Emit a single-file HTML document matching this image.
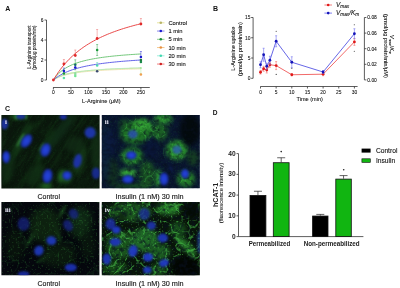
<!DOCTYPE html>
<html><head><meta charset="utf-8"><title>Figure</title>
<style>
html,body{margin:0;padding:0;background:#fff;width:400px;height:288px;overflow:hidden}
svg{display:block}
text{font-family:'Liberation Sans', Arial, sans-serif}
.lbl{font-size:7px;font-weight:bold;fill:#111}
.tk{font-size:4.9px;fill:#111;stroke:#111;stroke-width:0.08}
.tkb{font-size:6.6px;font-weight:bold;fill:#1a1a1a}
.ttl{font-size:5.6px;fill:#111;stroke:#111;stroke-width:0.08}
.ttlb{font-size:6.2px;font-weight:bold;fill:#222}
.ttls{font-size:4.6px;fill:#222;stroke:#222;stroke-width:0.06}
.lg{font-size:5.8px;fill:#111;stroke:#111;stroke-width:0.1}
.cap{font-size:7.4px;fill:#111;stroke:#111;stroke-width:0.12}
.rl{font-size:7px;fill:#e4e4f4;font-weight:bold;font-family:'Liberation Serif',serif}
.axis{fill:none;stroke:#333;stroke-width:0.8}
</style></head>
<body>
<svg width="400" height="288" viewBox="0 0 400 288">
<defs>
<filter id="b1" color-interpolation-filters="sRGB" x="-50%" y="-50%" width="200%" height="200%"><feGaussianBlur stdDeviation="0.9"/></filter>
<radialGradient id="ngA"><stop offset="0" stop-color="#2644e0"/><stop offset="0.55" stop-color="#203cc8"/><stop offset="1" stop-color="#152590"/></radialGradient>
<filter id="b2" color-interpolation-filters="sRGB" x="-50%" y="-50%" width="200%" height="200%"><feGaussianBlur stdDeviation="3"/></filter>
<filter id="b4" color-interpolation-filters="sRGB" x="-50%" y="-50%" width="200%" height="200%"><feGaussianBlur stdDeviation="1.3"/></filter>
<filter id="b3" color-interpolation-filters="sRGB" x="-50%" y="-50%" width="200%" height="200%"><feGaussianBlur stdDeviation="2"/></filter>
<filter id="holes" color-interpolation-filters="sRGB" x="0" y="0" width="100%" height="100%" filterUnits="objectBoundingBox"><feTurbulence type="fractalNoise" baseFrequency="0.25" numOctaves="2" seed="7"/><feColorMatrix type="matrix" values="0 0 0 0 0.03  0 0 0 0 0.06  0 0 0 0 0.12  -2.0 0 0 0 1.12"/></filter>
<filter id="holes2" color-interpolation-filters="sRGB" x="0" y="0" width="100%" height="100%" filterUnits="objectBoundingBox"><feTurbulence type="fractalNoise" baseFrequency="0.5" numOctaves="2" seed="11"/><feColorMatrix type="matrix" values="0 0 0 0 0.01  0 0 0 0 0.03  0 0 0 0 0.02  -3 0 0 0 1.85"/></filter>
<filter id="spk" color-interpolation-filters="sRGB" x="0" y="0" width="100%" height="100%" filterUnits="objectBoundingBox"><feTurbulence type="fractalNoise" baseFrequency="0.55" numOctaves="1" seed="4"/><feColorMatrix type="matrix" values="0 0 0 0 0.3  0 0 0 0 0.72  0 0 0 0 0.3  7 0 0 0 -4.1"/><feGaussianBlur stdDeviation="0.3"/></filter>
<filter id="fib" color-interpolation-filters="sRGB" x="0" y="0" width="100%" height="100%" filterUnits="objectBoundingBox"><feTurbulence type="fractalNoise" baseFrequency="0.05 0.3" numOctaves="3" seed="9"/><feColorMatrix type="matrix" values="0 0 0 0 0.16  0 0 0 0 0.48  0 0 0 0 0.18  3.2 0 0 0 -1.35"/></filter>
<filter id="vein" color-interpolation-filters="sRGB" x="0" y="0" width="100%" height="100%" filterUnits="objectBoundingBox"><feTurbulence type="turbulence" baseFrequency="0.09" numOctaves="2" seed="21"/><feColorMatrix type="matrix" values="0 0 0 0 0.3  0 0 0 0 0.78  0 0 0 0 0.3  -9 0 0 0 1.25"/><feGaussianBlur stdDeviation="0.35"/></filter>
<filter id="vein2" color-interpolation-filters="sRGB" x="0" y="0" width="100%" height="100%" filterUnits="objectBoundingBox"><feTurbulence type="turbulence" baseFrequency="0.11" numOctaves="2" seed="33"/><feColorMatrix type="matrix" values="0 0 0 0 0.25  0 0 0 0 0.72  0 0 0 0 0.28  -9 0 0 0 1.2"/><feGaussianBlur stdDeviation="0.4"/></filter>
<filter id="vein3" color-interpolation-filters="sRGB" x="0" y="0" width="100%" height="100%" filterUnits="objectBoundingBox"><feTurbulence type="turbulence" baseFrequency="0.08" numOctaves="2" seed="45"/><feColorMatrix type="matrix" values="0 0 0 0 0.2  0 0 0 0 0.6  0 0 0 0 0.25  -9 0 0 0 1.15"/><feGaussianBlur stdDeviation="0.4"/></filter>
<filter id="tex" color-interpolation-filters="sRGB" x="0" y="0" width="100%" height="100%"><feTurbulence type="fractalNoise" baseFrequency="0.6" numOctaves="2" seed="3"/><feColorMatrix type="matrix" values="0 0 0 0 0.15  0 0 0 0 0.5  0 0 0 0 0.2  0 0 0 2.2 -1.1"/><feComposite in2="SourceGraphic" operator="in"/></filter>
</defs>
<rect width="400" height="288" fill="#fff"/>
<g id="A">
<text x="5.3" y="10.9" class="lbl">A</text>
<path d="M46.5 20V80M44.5 20H46.5M44.5 40H46.5M44.5 60H46.5M44.5 80H46.5" class="axis"/>
<text x="43.6" y="21.8" class="tk" text-anchor="end">6</text>
<text x="43.6" y="41.8" class="tk" text-anchor="end">4</text>
<text x="43.6" y="61.8" class="tk" text-anchor="end">2</text>
<text x="43.6" y="81.8" class="tk" text-anchor="end">0</text>
<path d="M53.1 87.5H149.8M53.40 87.5V89.5M70.90 87.5V89.5M88.40 87.5V89.5M105.90 87.5V89.5M123.40 87.5V89.5M140.90 87.5V89.5" class="axis"/>
<text x="53.40" y="94.2" class="tk" text-anchor="middle">0</text>
<text x="70.90" y="94.2" class="tk" text-anchor="middle">50</text>
<text x="88.40" y="94.2" class="tk" text-anchor="middle">100</text>
<text x="105.90" y="94.2" class="tk" text-anchor="middle">150</text>
<text x="123.40" y="94.2" class="tk" text-anchor="middle">200</text>
<text x="140.90" y="94.2" class="tk" text-anchor="middle">250</text>
<text x="101.3" y="102.6" class="ttl" text-anchor="middle">L-Arginine (μM)</text>
<text transform="translate(30.7 47.1) rotate(-90)" class="ttl" style="font-size:5.1px" text-anchor="middle" textLength="43.5" lengthAdjust="spacingAndGlyphs">L-Arginine transport</text>
<text transform="translate(35.6 47.6) rotate(-90)" class="ttl" style="font-size:4.9px" text-anchor="middle" textLength="44.5" lengthAdjust="spacingAndGlyphs">(pmol/μg protein/min)</text>
<polyline points="53.40,80.00 55.15,78.79 56.90,77.77 58.65,76.89 60.40,76.13 62.15,75.47 63.90,74.88 65.65,74.36 67.40,73.89 69.15,73.47 70.90,73.10 72.65,72.75 74.40,72.43 76.15,72.15 77.90,71.88 79.65,71.63 81.40,71.41 83.15,71.20 84.90,71.00 86.65,70.82 88.40,70.65 90.15,70.48 91.90,70.33 93.65,70.19 95.40,70.06 97.15,69.93 98.90,69.81 100.65,69.70 102.40,69.59 104.15,69.49 105.90,69.39 107.65,69.30 109.40,69.21 111.15,69.12 112.90,69.04 114.65,68.97 116.40,68.89 118.15,68.82 119.90,68.76 121.65,68.69 123.40,68.63 125.15,68.57 126.90,68.51 128.65,68.45 130.40,68.40 132.15,68.35 133.90,68.30 135.65,68.25 137.40,68.20 139.15,68.16 140.90,68.11" fill="none" stroke="#dfe6a0" stroke-width="1.1"/>
<polyline points="53.40,80.00 55.15,78.94 56.90,78.03 58.65,77.24 60.40,76.55 62.15,75.94 63.90,75.40 65.65,74.92 67.40,74.48 69.15,74.09 70.90,73.73 72.65,73.40 74.40,73.10 76.15,72.82 77.90,72.57 79.65,72.33 81.40,72.11 83.15,71.91 84.90,71.72 86.65,71.54 88.40,71.38 90.15,71.22 91.90,71.07 93.65,70.93 95.40,70.80 97.15,70.68 98.90,70.56 100.65,70.45 102.40,70.34 104.15,70.24 105.90,70.14 107.65,70.05 109.40,69.96 111.15,69.88 112.90,69.80 114.65,69.72 116.40,69.65 118.15,69.58 119.90,69.51 121.65,69.45 123.40,69.38 125.15,69.32 126.90,69.27 128.65,69.21 130.40,69.16 132.15,69.11 133.90,69.06 135.65,69.01 137.40,68.96 139.15,68.91 140.90,68.87" fill="none" stroke="#eee0a8" stroke-width="0.8"/>
<polyline points="53.40,80.00 55.15,78.87 56.90,77.89 58.65,77.04 60.40,76.29 62.15,75.63 63.90,75.04 65.65,74.52 67.40,74.04 69.15,73.61 70.90,73.21 72.65,72.85 74.40,72.52 76.15,72.22 77.90,71.94 79.65,71.68 81.40,71.44 83.15,71.21 84.90,71.00 86.65,70.80 88.40,70.62 90.15,70.44 91.90,70.28 93.65,70.12 95.40,69.98 97.15,69.84 98.90,69.71 100.65,69.58 102.40,69.47 104.15,69.35 105.90,69.25 107.65,69.14 109.40,69.05 111.15,68.95 112.90,68.86 114.65,68.78 116.40,68.69 118.15,68.62 119.90,68.54 121.65,68.47 123.40,68.40 125.15,68.33 126.90,68.26 128.65,68.20 130.40,68.14 132.15,68.08 133.90,68.03 135.65,67.97 137.40,67.92 139.15,67.87 140.90,67.82" fill="none" stroke="#b0ecc4" stroke-width="0.8"/>
<polyline points="53.40,80.00 55.15,77.52 56.90,75.39 58.65,73.54 60.40,71.92 62.15,70.50 63.90,69.23 65.65,68.10 67.40,67.08 69.15,66.16 70.90,65.32 72.65,64.55 74.40,63.85 76.15,63.20 77.90,62.61 79.65,62.06 81.40,61.54 83.15,61.07 84.90,60.62 86.65,60.20 88.40,59.81 90.15,59.45 91.90,59.10 93.65,58.77 95.40,58.47 97.15,58.18 98.90,57.90 100.65,57.64 102.40,57.39 104.15,57.15 105.90,56.93 107.65,56.71 109.40,56.51 111.15,56.31 112.90,56.13 114.65,55.95 116.40,55.78 118.15,55.61 119.90,55.45 121.65,55.30 123.40,55.15 125.15,55.01 126.90,54.88 128.65,54.75 130.40,54.62 132.15,54.50 133.90,54.38 135.65,54.27 137.40,54.16 139.15,54.05 140.90,53.95" fill="none" stroke="#6cc474" stroke-width="0.95"/>
<polyline points="53.40,80.00 55.15,78.57 56.90,77.28 58.65,76.11 60.40,75.05 62.15,74.09 63.90,73.20 65.65,72.38 67.40,71.63 69.15,70.93 70.90,70.29 72.65,69.68 74.40,69.12 76.15,68.59 77.90,68.10 79.65,67.64 81.40,67.20 83.15,66.79 84.90,66.40 86.65,66.03 88.40,65.68 90.15,65.35 91.90,65.04 93.65,64.74 95.40,64.46 97.15,64.19 98.90,63.93 100.65,63.68 102.40,63.44 104.15,63.22 105.90,63.00 107.65,62.79 109.40,62.59 111.15,62.40 112.90,62.22 114.65,62.04 116.40,61.87 118.15,61.70 119.90,61.54 121.65,61.39 123.40,61.24 125.15,61.10 126.90,60.96 128.65,60.83 130.40,60.70 132.15,60.57 133.90,60.45 135.65,60.33 137.40,60.22 139.15,60.11 140.90,60.00" fill="none" stroke="#5a5ae6" stroke-width="0.95"/>
<polyline points="53.40,80.00 55.15,77.10 56.90,74.38 58.65,71.82 60.40,69.41 62.15,67.14 63.90,65.00 65.65,62.97 67.40,61.05 69.15,59.23 70.90,57.50 72.65,55.85 74.40,54.29 76.15,52.79 77.90,51.36 79.65,50.00 81.40,48.70 83.15,47.45 84.90,46.25 86.65,45.10 88.40,44.00 90.15,42.94 91.90,41.92 93.65,40.94 95.40,40.00 97.15,39.09 98.90,38.21 100.65,37.37 102.40,36.55 104.15,35.76 105.90,35.00 107.65,34.26 109.40,33.55 111.15,32.86 112.90,32.19 114.65,31.54 116.40,30.91 118.15,30.30 119.90,29.71 121.65,29.13 123.40,28.57 125.15,28.03 126.90,27.50 128.65,26.99 130.40,26.49 132.15,26.00 133.90,25.53 135.65,25.06 137.40,24.62 139.15,24.18 140.90,23.75" fill="none" stroke="#e84040" stroke-width="0.95"/>
<circle cx="63.90" cy="78.00" r="1.3" fill="#60e0a8"/>
<path d="M75.28 76.00V72.50M74.28 72.50H76.28" stroke="#70e890" stroke-width="0.6" fill="none" opacity="0.75"/>
<circle cx="75.28" cy="76.00" r="1.3" fill="#70e890"/>
<path d="M97.15 65.50V62.50M96.15 62.50H98.15" stroke="#50d8b0" stroke-width="0.6" fill="none" opacity="0.75"/>
<circle cx="97.15" cy="65.50" r="1.3" fill="#50d8b0"/>
<circle cx="97.15" cy="71.30" r="1.3" fill="#3a4a70"/>
<path d="M140.90 68.00V74.00M139.90 74.00H141.90" stroke="#a8e8a0" stroke-width="0.6" fill="none" opacity="0.75"/>
<circle cx="140.90" cy="68.00" r="1.0" fill="#a8e8a0"/>
<circle cx="140.90" cy="74.50" r="1.3" fill="#f0a050"/>
<path d="M63.90 73.50V70.50M62.90 70.50H64.90" stroke="#1a9a3a" stroke-width="0.6" fill="none" opacity="0.75"/>
<circle cx="63.90" cy="73.50" r="1.3" fill="#1a9a3a"/>
<circle cx="75.28" cy="74.00" r="1.3" fill="#90dca0"/>
<path d="M75.28 64.80V59.80M74.28 59.80H76.28" stroke="#1a9a3a" stroke-width="0.6" fill="none" opacity="0.75"/>
<path d="M75.28 64.80V69.80M74.28 69.80H76.28" stroke="#1a9a3a" stroke-width="0.6" fill="none" opacity="0.75"/>
<circle cx="75.28" cy="64.80" r="1.3" fill="#1a9a3a"/>
<path d="M97.15 50.00V44.50M96.15 44.50H98.15" stroke="#1a9a3a" stroke-width="0.6" fill="none" opacity="0.75"/>
<path d="M97.15 50.00V55.50M96.15 55.50H98.15" stroke="#1a9a3a" stroke-width="0.6" fill="none" opacity="0.75"/>
<circle cx="97.15" cy="50.00" r="1.3" fill="#1a9a3a"/>
<circle cx="140.90" cy="60.00" r="1.3" fill="#1a7a3a"/>
<circle cx="140.90" cy="62.00" r="1.3" fill="#1a8a4a"/>
<path d="M63.90 71.00V68.00M62.90 68.00H64.90" stroke="#1a1ad0" stroke-width="0.6" fill="none" opacity="0.75"/>
<circle cx="63.90" cy="71.00" r="1.3" fill="#1a1ad0"/>
<path d="M75.28 67.50V64.50M74.28 64.50H76.28" stroke="#1a1ad0" stroke-width="0.6" fill="none" opacity="0.75"/>
<circle cx="75.28" cy="67.50" r="1.3" fill="#1a1ad0"/>
<path d="M140.90 57.00V51.50M139.90 51.50H141.90" stroke="#1a1ad0" stroke-width="0.6" fill="none" opacity="0.75"/>
<circle cx="140.90" cy="57.00" r="1.3" fill="#1a1ad0"/>
<circle cx="53.40" cy="80.00" r="1.4" fill="#e02a2a"/>
<path d="M63.90 64.00V59.50M62.90 59.50H64.90" stroke="#e86060" stroke-width="0.6" fill="none" opacity="0.75"/>
<circle cx="63.90" cy="64.00" r="1.4" fill="#e02a2a"/>
<path d="M75.28 55.50V50.00M74.28 50.00H76.28" stroke="#e86060" stroke-width="0.6" fill="none" opacity="0.75"/>
<circle cx="75.28" cy="55.50" r="1.4" fill="#e02a2a"/>
<path d="M97.15 38.50V29.50M96.15 29.50H98.15" stroke="#e86060" stroke-width="0.6" fill="none" opacity="0.75"/>
<circle cx="97.15" cy="38.50" r="1.4" fill="#e02a2a"/>
<path d="M140.90 24.00V18.50M139.90 18.50H141.90" stroke="#e86060" stroke-width="0.6" fill="none" opacity="0.75"/>
<circle cx="140.90" cy="24.00" r="1.4" fill="#e02a2a"/>
<path d="M157 22.80H164.5" stroke="#e8e4a0" stroke-width="1"/>
<circle cx="160.8" cy="22.80" r="1.3" fill="#b8b468"/>
<text x="168.4" y="24.90" class="lg">Control</text>
<path d="M157 31.05H164.5" stroke="#8a8ae8" stroke-width="1"/>
<circle cx="160.8" cy="31.05" r="1.3" fill="#1a1ad0"/>
<text x="168.4" y="33.15" class="lg">1 min</text>
<path d="M157 39.30H164.5" stroke="#90d090" stroke-width="1"/>
<circle cx="160.8" cy="39.30" r="1.3" fill="#1a8a3a"/>
<text x="168.4" y="41.40" class="lg">5 min</text>
<path d="M157 47.55H164.5" stroke="#f4c890" stroke-width="1"/>
<circle cx="160.8" cy="47.55" r="1.3" fill="#e89040"/>
<text x="168.4" y="49.65" class="lg">10 min</text>
<path d="M157 55.80H164.5" stroke="#a0eedd" stroke-width="1"/>
<circle cx="160.8" cy="55.80" r="1.3" fill="#40d8b0"/>
<text x="168.4" y="57.90" class="lg">20 min</text>
<path d="M157 64.05H164.5" stroke="#f08080" stroke-width="1"/>
<circle cx="160.8" cy="64.05" r="1.3" fill="#d02020"/>
<text x="168.4" y="66.15" class="lg">30 min</text>
</g>
<g id="B">
<text x="212.9" y="10.7" class="lbl">B</text>
<path d="M253.1 17.5V78.3M251.1 17.5H253.1M251.1 37.76H253.1M251.1 58.03H253.1M251.1 78.3H253.1" class="axis"/>
<text x="250.4" y="19.30" class="tk" text-anchor="end">15</text>
<text x="250.4" y="39.57" class="tk" text-anchor="end">10</text>
<text x="250.4" y="59.83" class="tk" text-anchor="end">5</text>
<text x="250.4" y="80.10" class="tk" text-anchor="end">0</text>
<path d="M260.4 86.5H357.6M260.50 86.5V88.5M276.15 86.5V88.5M291.80 86.5V88.5M307.45 86.5V88.5M323.10 86.5V88.5M338.75 86.5V88.5M354.40 86.5V88.5" class="axis"/>
<text x="260.50" y="93.6" class="tk" text-anchor="middle">0</text>
<text x="276.15" y="93.6" class="tk" text-anchor="middle">5</text>
<text x="291.80" y="93.6" class="tk" text-anchor="middle">10</text>
<text x="307.45" y="93.6" class="tk" text-anchor="middle">15</text>
<text x="323.10" y="93.6" class="tk" text-anchor="middle">20</text>
<text x="338.75" y="93.6" class="tk" text-anchor="middle">25</text>
<text x="354.40" y="93.6" class="tk" text-anchor="middle">30</text>
<text x="309.7" y="101.2" class="ttl" text-anchor="middle">Time (min)</text>
<path d="M364.4 17.5V79.9M364.4 79.90H366.4M364.4 64.30H366.4M364.4 48.70H366.4M364.4 33.10H366.4M364.4 17.50H366.4" class="axis"/>
<text x="367.3" y="81.70" class="tk">0.00</text>
<text x="367.3" y="66.10" class="tk">0.02</text>
<text x="367.3" y="50.50" class="tk">0.04</text>
<text x="367.3" y="34.90" class="tk">0.06</text>
<text x="367.3" y="19.30" class="tk">0.08</text>
<text transform="translate(235.2 48.7) rotate(-90)" class="ttl" text-anchor="middle" textLength="44" lengthAdjust="spacingAndGlyphs">L-Arginine uptake</text>
<text transform="translate(242.0 49.1) rotate(-90)" class="ttl" text-anchor="middle" textLength="54" lengthAdjust="spacingAndGlyphs">(pmol/μg protein/min)</text>
<text transform="translate(383.8 46) rotate(90)" class="ttl" text-anchor="middle" textLength="64" lengthAdjust="spacingAndGlyphs">(pmol/μg protein/min/μM)</text>
<text transform="translate(389.6 44.5) rotate(90)" class="ttl" text-anchor="middle"><tspan font-style="italic">V</tspan><tspan font-size="3.6" dy="1">max</tspan><tspan dy="-1">/</tspan><tspan font-style="italic">K</tspan><tspan font-size="3.6" dy="1">m</tspan></text>
<polyline points="260.50,72.25 263.63,68.75 266.76,70.00 269.89,64.75 276.15,65.60 291.80,74.75 323.10,74.20 354.40,41.90" fill="none" stroke="#ee4444" stroke-width="0.8"/>
<polyline points="260.50,64.75 263.63,54.75 266.76,66.25 269.89,60.25 276.15,41.25 291.80,62.25 323.10,72.00 354.40,33.75" fill="none" stroke="#4040e0" stroke-width="0.8"/>
<path d="M260.50 70.45V74.05M259.50 70.45H261.50M259.50 74.05H261.50" stroke="#f07070" stroke-width="0.6"/>
<circle cx="260.50" cy="72.25" r="1.4" fill="#e01818"/>
<path d="M263.63 66.25V71.25M262.63 66.25H264.63M262.63 71.25H264.63" stroke="#f07070" stroke-width="0.6"/>
<circle cx="263.63" cy="68.75" r="1.4" fill="#e01818"/>
<path d="M266.76 67.00V73.00M265.76 67.00H267.76M265.76 73.00H267.76" stroke="#f07070" stroke-width="0.6"/>
<circle cx="266.76" cy="70.00" r="1.4" fill="#e01818"/>
<path d="M269.89 62.25V67.25M268.89 62.25H270.89M268.89 67.25H270.89" stroke="#f07070" stroke-width="0.6"/>
<circle cx="269.89" cy="64.75" r="1.4" fill="#e01818"/>
<path d="M276.15 61.60V69.60M275.15 61.60H277.15M275.15 69.60H277.15" stroke="#f07070" stroke-width="0.6"/>
<circle cx="276.15" cy="65.60" r="1.4" fill="#e01818"/>
<path d="M291.80 73.75V75.75M290.80 73.75H292.80M290.80 75.75H292.80" stroke="#f07070" stroke-width="0.6"/>
<circle cx="291.80" cy="74.75" r="1.4" fill="#e01818"/>
<path d="M323.10 72.70V75.70M322.10 72.70H324.10M322.10 75.70H324.10" stroke="#f07070" stroke-width="0.6"/>
<circle cx="323.10" cy="74.20" r="1.4" fill="#e01818"/>
<path d="M354.40 38.40V45.40M353.40 38.40H355.40M353.40 45.40H355.40" stroke="#f07070" stroke-width="0.6"/>
<circle cx="354.40" cy="41.90" r="1.4" fill="#e01818"/>
<path d="M260.50 61.75V67.75M259.50 61.75H261.50M259.50 67.75H261.50" stroke="#7070ee" stroke-width="0.6"/>
<circle cx="260.50" cy="64.75" r="1.4" fill="#1414b8"/>
<path d="M263.63 48.25V61.25M262.63 48.25H264.63M262.63 61.25H264.63" stroke="#7070ee" stroke-width="0.6"/>
<circle cx="263.63" cy="54.75" r="1.4" fill="#1414b8"/>
<path d="M266.76 63.25V69.25M265.76 63.25H267.76M265.76 69.25H267.76" stroke="#7070ee" stroke-width="0.6"/>
<circle cx="266.76" cy="66.25" r="1.4" fill="#1414b8"/>
<path d="M269.89 56.25V64.25M268.89 56.25H270.89M268.89 64.25H270.89" stroke="#7070ee" stroke-width="0.6"/>
<circle cx="269.89" cy="60.25" r="1.4" fill="#1414b8"/>
<path d="M276.15 35.75V46.75M275.15 35.75H277.15M275.15 46.75H277.15" stroke="#7070ee" stroke-width="0.6"/>
<circle cx="276.15" cy="41.25" r="1.4" fill="#1414b8"/>
<path d="M291.80 56.75V67.75M290.80 56.75H292.80M290.80 67.75H292.80" stroke="#7070ee" stroke-width="0.6"/>
<circle cx="291.80" cy="62.25" r="1.4" fill="#1414b8"/>
<path d="M323.10 70.50V73.50M322.10 70.50H324.10M322.10 73.50H324.10" stroke="#7070ee" stroke-width="0.6"/>
<circle cx="323.10" cy="72.00" r="1.4" fill="#1414b8"/>
<path d="M354.40 28.75V38.75M353.40 28.75H355.40M353.40 38.75H355.40" stroke="#7070ee" stroke-width="0.6"/>
<circle cx="354.40" cy="33.75" r="1.4" fill="#1414b8"/>
<circle cx="276.2" cy="31.2" r="0.55" fill="#333"/>
<circle cx="354.3" cy="24.7" r="0.55" fill="#333"/>
<circle cx="354.3" cy="51.3" r="0.55" fill="#333"/>
<circle cx="276.2" cy="74.4" r="0.55" fill="#333"/>
<circle cx="291.8" cy="68.2" r="0.55" fill="#333"/>
<path d="M324.4 5H332" stroke="#f08080" stroke-width="1"/><circle cx="328.2" cy="5" r="1.3" fill="#e01818"/>
<path d="M324.4 13.1H332" stroke="#8080f0" stroke-width="1"/><circle cx="328.2" cy="13.1" r="1.3" fill="#1414b8"/>
<text x="336.0" y="7.0" class="lg" style="font-size:6.4px"><tspan font-style="italic">V</tspan><tspan font-size="4.7" dy="1.0" font-style="italic">max</tspan></text>
<text x="336.0" y="15.1" class="lg" style="font-size:6.4px"><tspan font-style="italic">V</tspan><tspan font-size="4.7" dy="1.0" font-style="italic">max</tspan><tspan dy="-1.0" font-style="italic">/K</tspan><tspan font-size="4.7" dy="1.0" font-style="italic">m</tspan></text>
</g>
<g id="C">
<text x="5.0" y="111.3" class="lbl">C</text>
<clipPath id="c1"><rect x="1.4" y="115" width="98.2" height="73.6"/></clipPath>
<clipPath id="c2"><rect x="101.8" y="115" width="98" height="73.2"/></clipPath>
<clipPath id="c3"><rect x="1.4" y="202" width="98" height="73.3"/></clipPath>
<clipPath id="c4"><rect x="101.8" y="202" width="98" height="73.2"/></clipPath>
<g clip-path="url(#c1)">
<rect x="0" y="114" width="101" height="76" fill="#0a160c"/>
<rect x="1.4" y="115" width="98.2" height="73.6" fill="#2a7a30" filter="url(#tex)" opacity="0.15"/>
<rect x="-60" y="80" width="220" height="140" fill="#000" filter="url(#fib)" opacity="0.12" transform="rotate(-58 50 152)"/>
<ellipse cx="22" cy="140" rx="4" ry="20" transform="rotate(30 22 140)" fill="#153f19" opacity="0.8" filter="url(#b3)"/>
<ellipse cx="46" cy="146" rx="4" ry="20" transform="rotate(30 46 146)" fill="#133a17" opacity="0.7" filter="url(#b3)"/>
<ellipse cx="62" cy="130" rx="5" ry="22" transform="rotate(35 62 130)" fill="#11301a" opacity="0.7" filter="url(#b3)"/>
<ellipse cx="18" cy="116" rx="8" ry="3" transform="rotate(0 18 116)" fill="#246e28" opacity="0.8" filter="url(#b3)"/>
<ellipse cx="66" cy="177" rx="6" ry="6" transform="rotate(0 66 177)" fill="#226426" opacity="0.8" filter="url(#b3)"/>
<ellipse cx="80" cy="160" rx="5" ry="14" transform="rotate(20 80 160)" fill="#173f19" opacity="0.8" filter="url(#b3)"/>
<ellipse cx="8" cy="168" rx="6" ry="15" transform="rotate(10 8 168)" fill="#133318" opacity="0.7" filter="url(#b3)"/>
<ellipse cx="96" cy="150" rx="5" ry="22" transform="rotate(0 96 150)" fill="#143418" opacity="0.7" filter="url(#b3)"/>
<ellipse cx="35" cy="175" rx="8" ry="12" transform="rotate(30 35 175)" fill="#123216" opacity="0.7" filter="url(#b3)"/>
<ellipse cx="46" cy="186" rx="6" ry="3" transform="rotate(0 46 186)" fill="#267a2a" opacity="0.8" filter="url(#b3)"/>
<ellipse cx="20.5" cy="140" rx="1.1" ry="8" transform="rotate(30 20.5 140)" fill="#3a9a40" opacity="0.85" filter="url(#b1)"/>
<ellipse cx="41.5" cy="147" rx="1.0" ry="5" transform="rotate(30 41.5 147)" fill="#3a9a40" opacity="0.6" filter="url(#b1)"/>
<ellipse cx="61" cy="176" rx="2.2" ry="7" transform="rotate(15 61 176)" fill="#2e8a34" opacity="0.75" filter="url(#b3)"/>
<ellipse cx="75" cy="145" rx="10" ry="8" transform="rotate(0 75 145)" fill="#122e16" opacity="0.7" filter="url(#b3)"/>
<ellipse cx="16" cy="117" rx="1.2" ry="3" transform="rotate(0 16 117)" fill="#3aa040" opacity="0.7" filter="url(#b1)"/>
<ellipse cx="26" cy="117" rx="1.2" ry="3" transform="rotate(0 26 117)" fill="#3aa040" opacity="0.7" filter="url(#b1)"/>
<ellipse cx="4.6" cy="124" rx="3.6" ry="5.4" transform="rotate(0 4.6 124)" fill="#1e34a8" opacity="0.9" filter="url(#b4)"/>
<ellipse cx="20.8" cy="116.5" rx="4.6" ry="2.8" transform="rotate(0 20.8 116.5)" fill="#1c30a0" opacity="0.9" filter="url(#b4)"/>
<ellipse cx="63.3" cy="117" rx="3.5" ry="2.4" transform="rotate(0 63.3 117)" fill="#1a2ea0" opacity="1.0" filter="url(#b1)"/>
<ellipse cx="26.4" cy="141" rx="4.8" ry="7.4" transform="rotate(35 26.4 141)" fill="url(#ngA)" opacity="1.0" filter="url(#b1)"/>
<ellipse cx="45.6" cy="150" rx="5.0" ry="7.0" transform="rotate(20 45.6 150)" fill="url(#ngA)" opacity="1.0" filter="url(#b1)"/>
<ellipse cx="90.2" cy="132.6" rx="5.6" ry="5.6" transform="rotate(20 90.2 132.6)" fill="#2038b8" opacity="0.9" filter="url(#b4)"/>
<ellipse cx="6.2" cy="157" rx="3.9" ry="6.3" transform="rotate(0 6.2 157)" fill="url(#ngA)" opacity="1.0" filter="url(#b1)"/>
<ellipse cx="77.6" cy="161" rx="4.0" ry="7.2" transform="rotate(15 77.6 161)" fill="#1e32b0" opacity="0.92" filter="url(#b4)"/>
<ellipse cx="47.5" cy="176" rx="5.0" ry="7.3" transform="rotate(10 47.5 176)" fill="url(#ngA)" opacity="1.0" filter="url(#b1)"/>
<ellipse cx="67" cy="175.5" rx="4.8" ry="4.6" transform="rotate(0 67 175.5)" fill="url(#ngA)" opacity="1.0" filter="url(#b1)"/>
<ellipse cx="96" cy="173.2" rx="4.2" ry="5.8" transform="rotate(0 96 173.2)" fill="#1a2ea0" opacity="0.85" filter="url(#b4)"/>
</g>
<mask id="m2" maskUnits="userSpaceOnUse" x="100" y="113" width="102" height="78"><ellipse cx="138" cy="130" rx="17" ry="12" transform="rotate(0 138 130)" fill="#fff" opacity="1" filter="url(#b2)"/><ellipse cx="163" cy="120" rx="9" ry="6" transform="rotate(0 163 120)" fill="#fff" opacity="1" filter="url(#b2)"/><ellipse cx="132" cy="156" rx="11" ry="9" transform="rotate(0 132 156)" fill="#fff" opacity="1" filter="url(#b2)"/><ellipse cx="176" cy="151" rx="12" ry="11" transform="rotate(0 176 151)" fill="#fff" opacity="1" filter="url(#b2)"/><ellipse cx="128" cy="175" rx="10" ry="6" transform="rotate(0 128 175)" fill="#fff" opacity="1" filter="url(#b2)"/><ellipse cx="158" cy="178" rx="5" ry="10" transform="rotate(0 158 178)" fill="#fff" opacity="1" filter="url(#b2)"/><ellipse cx="186" cy="179" rx="9" ry="8" transform="rotate(0 186 179)" fill="#fff" opacity="1" filter="url(#b2)"/><ellipse cx="147" cy="174" rx="8" ry="12" transform="rotate(0 147 174)" fill="#fff" opacity="1" filter="url(#b2)"/><ellipse cx="160" cy="132" rx="8" ry="9" transform="rotate(0 160 132)" fill="#fff" opacity="1" filter="url(#b2)"/></mask>
<g clip-path="url(#c2)">
<rect x="101" y="114" width="100" height="76" fill="#0a1530"/>
<rect x="101.8" y="115" width="98" height="73.2" fill="#2a7a30" filter="url(#tex)" opacity="0.25"/>
<ellipse cx="137" cy="132" rx="17" ry="12" transform="rotate(-10 137 132)" fill="#1f7426" opacity="0.95" filter="url(#b3)"/>
<ellipse cx="142" cy="125" rx="9" ry="6" transform="rotate(0 142 125)" fill="#34a434" opacity="0.9" filter="url(#b3)"/>
<ellipse cx="163" cy="119" rx="9" ry="5" transform="rotate(0 163 119)" fill="#30a032" opacity="0.9" filter="url(#b3)"/>
<ellipse cx="124" cy="124" rx="5" ry="5" transform="rotate(0 124 124)" fill="#1a5a22" opacity="0.7" filter="url(#b3)"/>
<ellipse cx="132" cy="156" rx="11" ry="9" transform="rotate(0 132 156)" fill="#23822a" opacity="0.95" filter="url(#b3)"/>
<ellipse cx="177" cy="150" rx="11" ry="10" transform="rotate(0 177 150)" fill="#2c962e" opacity="0.95" filter="url(#b3)"/>
<ellipse cx="128" cy="173" rx="9" ry="4" transform="rotate(0 128 173)" fill="#38ac38" opacity="0.95" filter="url(#b3)"/>
<ellipse cx="158" cy="178" rx="3" ry="9" transform="rotate(0 158 178)" fill="#36b036" opacity="0.95" filter="url(#b3)"/>
<ellipse cx="186" cy="179" rx="9" ry="8" transform="rotate(0 186 179)" fill="#28882a" opacity="0.9" filter="url(#b3)"/>
<ellipse cx="112" cy="172" rx="7" ry="14" transform="rotate(0 112 172)" fill="#14381c" opacity="0.7" filter="url(#b3)"/>
<ellipse cx="147" cy="174" rx="8" ry="13" transform="rotate(0 147 174)" fill="#1c5a22" opacity="0.85" filter="url(#b3)"/>
<ellipse cx="193" cy="158" rx="6" ry="8" transform="rotate(0 193 158)" fill="#1a4a1e" opacity="0.7" filter="url(#b3)"/>
<ellipse cx="160" cy="132" rx="8" ry="9" transform="rotate(0 160 132)" fill="#1e6a24" opacity="0.85" filter="url(#b3)"/>
<ellipse cx="138" cy="186" rx="14" ry="3" transform="rotate(0 138 186)" fill="#1c5a22" opacity="0.8" filter="url(#b3)"/>
<ellipse cx="106" cy="150" rx="5" ry="30" transform="rotate(0 106 150)" fill="#0e2440" opacity="0.7" filter="url(#b3)"/>
<ellipse cx="120" cy="186" rx="8" ry="3" transform="rotate(0 120 186)" fill="#1a4a20" opacity="0.8" filter="url(#b3)"/>
<ellipse cx="151" cy="148" rx="7" ry="11" transform="rotate(0 151 148)" fill="#0a1638" opacity="0.95" filter="url(#b3)"/>
<ellipse cx="190" cy="130" rx="10" ry="16" transform="rotate(0 190 130)" fill="#040a0c" opacity="0.95" filter="url(#b3)"/>
<ellipse cx="171" cy="168" rx="2" ry="5" transform="rotate(0 171 168)" fill="#0c1a44" opacity="0.9" filter="url(#b1)"/>
<ellipse cx="110" cy="142" rx="6" ry="12" transform="rotate(0 110 142)" fill="#0c1a40" opacity="0.75" filter="url(#b3)"/>
<rect x="101.8" y="115" width="98" height="73.2" fill="#000" filter="url(#holes)" opacity="0.8"/>
<rect x="101.8" y="115" width="98" height="73.2" fill="#000" filter="url(#vein2)" opacity="0.45" mask="url(#m2)"/>
<ellipse cx="132.8" cy="134.2" rx="4.8" ry="4.2" transform="rotate(0 132.8 134.2)" fill="#2c52b8" opacity="0.8" filter="url(#b4)"/>
<ellipse cx="177" cy="149.8" rx="4.6" ry="4.2" transform="rotate(0 177 149.8)" fill="#2c5cb0" opacity="0.8" filter="url(#b4)"/>
<ellipse cx="131.3" cy="155.2" rx="5.4" ry="4.2" transform="rotate(0 131.3 155.2)" fill="url(#ngA)" opacity="1.0" filter="url(#b1)"/>
<ellipse cx="127.8" cy="179.2" rx="5.8" ry="4.3" transform="rotate(0 127.8 179.2)" fill="url(#ngA)" opacity="1.0" filter="url(#b1)"/>
<ellipse cx="164" cy="179" rx="4.6" ry="6.6" transform="rotate(0 164 179)" fill="url(#ngA)" opacity="1.0" filter="url(#b1)"/>
<ellipse cx="185" cy="173.8" rx="4.2" ry="4.8" transform="rotate(0 185 173.8)" fill="url(#ngA)" opacity="1.0" filter="url(#b1)"/>
</g>
<g clip-path="url(#c3)">
<rect x="0" y="201" width="101" height="76" fill="#05070d"/>
<ellipse cx="33" cy="236" rx="2" ry="14" transform="rotate(35 33 236)" fill="#1e5a22" opacity="0.6" filter="url(#b1)"/>
<ellipse cx="57" cy="232" rx="2" ry="12" transform="rotate(-20 57 232)" fill="#1e5a22" opacity="0.6" filter="url(#b1)"/>
<ellipse cx="62" cy="212" rx="2" ry="8" transform="rotate(30 62 212)" fill="#1e5a22" opacity="0.6" filter="url(#b1)"/>
<ellipse cx="82" cy="228" rx="2" ry="12" transform="rotate(10 82 228)" fill="#1e5a22" opacity="0.5" filter="url(#b1)"/>
<ellipse cx="45" cy="258" rx="2" ry="10" transform="rotate(60 45 258)" fill="#1e5a22" opacity="0.5" filter="url(#b1)"/>
<ellipse cx="45" cy="225" rx="16" ry="18" transform="rotate(0 45 225)" fill="#0e2410" opacity="0.9" filter="url(#b2)"/>
<ellipse cx="80" cy="222" rx="12" ry="16" transform="rotate(0 80 222)" fill="#0f2a14" opacity="0.9" filter="url(#b2)"/>
<ellipse cx="58" cy="255" rx="18" ry="12" transform="rotate(0 58 255)" fill="#0c1e0e" opacity="0.8" filter="url(#b2)"/>
<ellipse cx="15" cy="245" rx="10" ry="16" transform="rotate(0 15 245)" fill="#0a180c" opacity="0.7" filter="url(#b2)"/>
<ellipse cx="88" cy="245" rx="8" ry="14" transform="rotate(0 88 245)" fill="#0b1c0e" opacity="0.7" filter="url(#b2)"/>
<rect x="1.4" y="202" width="98" height="73.3" fill="#000" filter="url(#spk)" opacity="0.2"/>
<rect x="1.4" y="202" width="98" height="73.3" fill="#000" filter="url(#vein3)" opacity="0.13"/>
<ellipse cx="23.6" cy="224" rx="6.0" ry="6.8" transform="rotate(0 23.6 224)" fill="#16227e" opacity="0.75" filter="url(#b4)"/>
<ellipse cx="73.6" cy="213.8" rx="4.4" ry="5.4" transform="rotate(-30 73.6 213.8)" fill="#18248a" opacity="0.75" filter="url(#b4)"/>
<ellipse cx="68" cy="225.4" rx="4.4" ry="6.0" transform="rotate(-30 68 225.4)" fill="#18248a" opacity="0.75" filter="url(#b4)"/>
<ellipse cx="51.4" cy="240.6" rx="5.0" ry="4.4" transform="rotate(10 51.4 240.6)" fill="#1e38b8" opacity="0.95" filter="url(#b4)"/>
<ellipse cx="38.9" cy="250.6" rx="4.6" ry="5.2" transform="rotate(30 38.9 250.6)" fill="#1e38b8" opacity="0.95" filter="url(#b4)"/>
<ellipse cx="23.6" cy="274" rx="5.8" ry="2.8" transform="rotate(0 23.6 274)" fill="#1a2ca8" opacity="0.9" filter="url(#b4)"/>
<ellipse cx="70.8" cy="267.5" rx="6.0" ry="3.8" transform="rotate(0 70.8 267.5)" fill="#1c30b0" opacity="0.95" filter="url(#b4)"/>
</g>
<mask id="m4" maskUnits="userSpaceOnUse" x="100" y="200" width="102" height="78"><rect x="100" y="200" width="102" height="78" fill="#fff"/><ellipse cx="192" cy="210" rx="9" ry="9" transform="rotate(0 192 210)" fill="#000" opacity="1" filter="url(#b3)"/><ellipse cx="186" cy="268" rx="14" ry="12" transform="rotate(0 186 268)" fill="#000" opacity="1" filter="url(#b3)"/></mask>
<g clip-path="url(#c4)">
<rect x="101" y="201" width="100" height="76" fill="#081409"/>
<ellipse cx="130" cy="212" rx="22" ry="9" transform="rotate(0 130 212)" fill="#1e5e22" opacity="0.9" filter="url(#b3)"/>
<ellipse cx="168" cy="209" rx="12" ry="6" transform="rotate(0 168 209)" fill="#2a8a2c" opacity="0.9" filter="url(#b3)"/>
<ellipse cx="120" cy="245" rx="14" ry="14" transform="rotate(0 120 245)" fill="#1c5a20" opacity="0.9" filter="url(#b3)"/>
<ellipse cx="145" cy="240" rx="14" ry="12" transform="rotate(0 145 240)" fill="#22702a" opacity="0.9" filter="url(#b3)"/>
<ellipse cx="186" cy="246" rx="4" ry="14" transform="rotate(-45 186 246)" fill="#2c8a2e" opacity="0.9" filter="url(#b3)"/>
<ellipse cx="160" cy="252" rx="10" ry="8" transform="rotate(0 160 252)" fill="#1e6424" opacity="0.9" filter="url(#b3)"/>
<ellipse cx="115" cy="268" rx="12" ry="7" transform="rotate(0 115 268)" fill="#185018" opacity="0.9" filter="url(#b3)"/>
<ellipse cx="158" cy="270" rx="8" ry="6" transform="rotate(0 158 270)" fill="#1c5a20" opacity="0.9" filter="url(#b3)"/>
<ellipse cx="178" cy="230" rx="8" ry="8" transform="rotate(0 178 230)" fill="#1a5a1e" opacity="0.8" filter="url(#b3)"/>
<ellipse cx="192" cy="210" rx="8" ry="8" transform="rotate(0 192 210)" fill="#040a06" opacity="0.9" filter="url(#b3)"/>
<ellipse cx="186" cy="268" rx="14" ry="12" transform="rotate(0 186 268)" fill="#030603" opacity="0.97" filter="url(#b3)"/>
<ellipse cx="122" cy="216" rx="5" ry="5" transform="rotate(0 122 216)" fill="#0a160c" opacity="0.7" filter="url(#b3)"/>
<rect x="101.8" y="202" width="98" height="73.2" fill="#000" filter="url(#holes)"/>
<rect x="101.8" y="202" width="98" height="73.2" fill="#000" filter="url(#spk)" opacity="0.35" mask="url(#m4)"/>
<rect x="101.8" y="202" width="98" height="73.2" fill="#000" filter="url(#vein)" opacity="0.6" mask="url(#m4)"/>
<ellipse cx="110.5" cy="224" rx="5.0" ry="5.8" transform="rotate(0 110.5 224)" fill="#1e30a8" opacity="0.85" filter="url(#b4)"/>
<ellipse cx="116.2" cy="229.8" rx="4.2" ry="3.6" transform="rotate(0 116.2 229.8)" fill="#2038c4" opacity="0.95" filter="url(#b4)"/>
<ellipse cx="144.4" cy="214" rx="5.4" ry="6.0" transform="rotate(0 144.4 214)" fill="#1a2c98" opacity="0.8" filter="url(#b4)"/>
<ellipse cx="151.4" cy="225.6" rx="4.6" ry="4.2" transform="rotate(0 151.4 225.6)" fill="#2036b8" opacity="0.85" filter="url(#b4)"/>
<ellipse cx="162.8" cy="238" rx="5.2" ry="4.4" transform="rotate(0 162.8 238)" fill="#1e36b8" opacity="0.95" filter="url(#b4)"/>
<ellipse cx="115.3" cy="242" rx="5.6" ry="4.0" transform="rotate(0 115.3 242)" fill="#1e34b8" opacity="0.95" filter="url(#b4)"/>
<ellipse cx="133" cy="251" rx="4.6" ry="6.0" transform="rotate(10 133 251)" fill="#2038c4" opacity="0.95" filter="url(#b4)"/>
<ellipse cx="106.8" cy="259" rx="4.2" ry="5.6" transform="rotate(0 106.8 259)" fill="#1e36b8" opacity="0.95" filter="url(#b4)"/>
<ellipse cx="148" cy="257.3" rx="5.0" ry="4.2" transform="rotate(0 148 257.3)" fill="#2038c4" opacity="0.95" filter="url(#b4)"/>
<ellipse cx="147.2" cy="270" rx="4.2" ry="3.6" transform="rotate(0 147.2 270)" fill="#1e36b8" opacity="0.95" filter="url(#b4)"/>
<ellipse cx="164" cy="263" rx="5.0" ry="3.8" transform="rotate(-20 164 263)" fill="#2038c4" opacity="0.95" filter="url(#b4)"/>
<ellipse cx="199.5" cy="242" rx="2.2" ry="12" transform="rotate(0 199.5 242)" fill="#20409a" opacity="0.7" filter="url(#b1)"/>
</g>
<text x="4.9" y="124.3" class="rl">i</text>
<text x="104.8" y="124.3" class="rl">ii</text>
<text x="4.9" y="211.9" class="rl">iii</text>
<text x="104.8" y="211.9" class="rl">iv</text>
<text x="48.8" y="198.6" class="cap" text-anchor="middle" textLength="22.5" lengthAdjust="spacingAndGlyphs">Control</text>
<text x="149.6" y="198.6" class="cap" text-anchor="middle" textLength="68" lengthAdjust="spacingAndGlyphs">Insulin (1 nM) 30 min</text>
<text x="48.8" y="286.1" class="cap" text-anchor="middle" textLength="22.5" lengthAdjust="spacingAndGlyphs">Control</text>
<text x="149.6" y="286.1" class="cap" text-anchor="middle" textLength="68" lengthAdjust="spacingAndGlyphs">Insulin (1 nM) 30 min</text>
</g>
<g id="D">
<text x="212.8" y="114.8" class="lbl" style="font-size:6.6px">D</text>
<path d="M238.5 153.60V236.6H363.4M236.5 236.60H238.5M236.5 215.85H238.5M236.5 195.10H238.5M236.5 174.35H238.5M236.5 153.60H238.5" class="axis"/>
<text x="235.6" y="238.60" class="tkb" text-anchor="end">0</text>
<text x="235.6" y="217.85" class="tkb" text-anchor="end">10</text>
<text x="235.6" y="197.10" class="tkb" text-anchor="end">20</text>
<text x="235.6" y="176.35" class="tkb" text-anchor="end">30</text>
<text x="235.6" y="155.60" class="tkb" text-anchor="end">40</text>
<text transform="translate(217.8 194.9) rotate(-90)" class="ttlb" style="font-size:6.7px" text-anchor="middle" textLength="24.4" lengthAdjust="spacingAndGlyphs">hCAT-1</text>
<text transform="translate(222.6 193.1) rotate(-90)" class="ttls" text-anchor="middle" textLength="60.5" lengthAdjust="spacingAndGlyphs">(fluorescence intensity)</text>
<path d="M257.95 195.00V191.26M253.95 191.26H261.95" stroke="#222" stroke-width="0.7"/>
<rect x="250.00" y="195.40" width="15.90" height="41.20" fill="#000" stroke="#111" stroke-width="0.8"/>
<path d="M281.20 162.31V157.75M277.20 157.75H285.20" stroke="#222" stroke-width="0.7"/>
<rect x="273.30" y="162.72" width="15.80" height="73.88" fill="#11b511" stroke="#111" stroke-width="0.8"/>
<path d="M320.30 215.64V214.40M316.30 214.40H324.30" stroke="#222" stroke-width="0.7"/>
<rect x="312.60" y="216.04" width="15.40" height="20.56" fill="#000" stroke="#111" stroke-width="0.8"/>
<path d="M343.55 178.71V175.59M339.55 175.59H347.55" stroke="#222" stroke-width="0.7"/>
<rect x="335.80" y="179.11" width="15.50" height="57.49" fill="#11b511" stroke="#111" stroke-width="0.8"/>
<circle cx="281.2" cy="151.6" r="0.8" fill="#222"/>
<circle cx="343.7" cy="169.8" r="0.8" fill="#222"/>
<text x="269.5" y="246.1" class="tkb" text-anchor="middle" style="font-size:6.3px" textLength="41.5" lengthAdjust="spacingAndGlyphs">Permeabilized</text>
<text x="331.7" y="246.1" class="tkb" text-anchor="middle" style="font-size:6.3px" textLength="56" lengthAdjust="spacingAndGlyphs">Non-permeabilized</text>
<rect x="361.6" y="148.6" width="9" height="4" fill="#000"/>
<rect x="361.9" y="158.8" width="8.4" height="3.6" fill="#11b511" stroke="#111" stroke-width="0.6"/>
<text x="375.9" y="152.7" class="lg" style="font-size:6.7px" textLength="21.5" lengthAdjust="spacingAndGlyphs">Control</text>
<text x="375.9" y="162.7" class="lg" style="font-size:6.7px">Insulin</text>
</g>
</svg>
</body></html>
